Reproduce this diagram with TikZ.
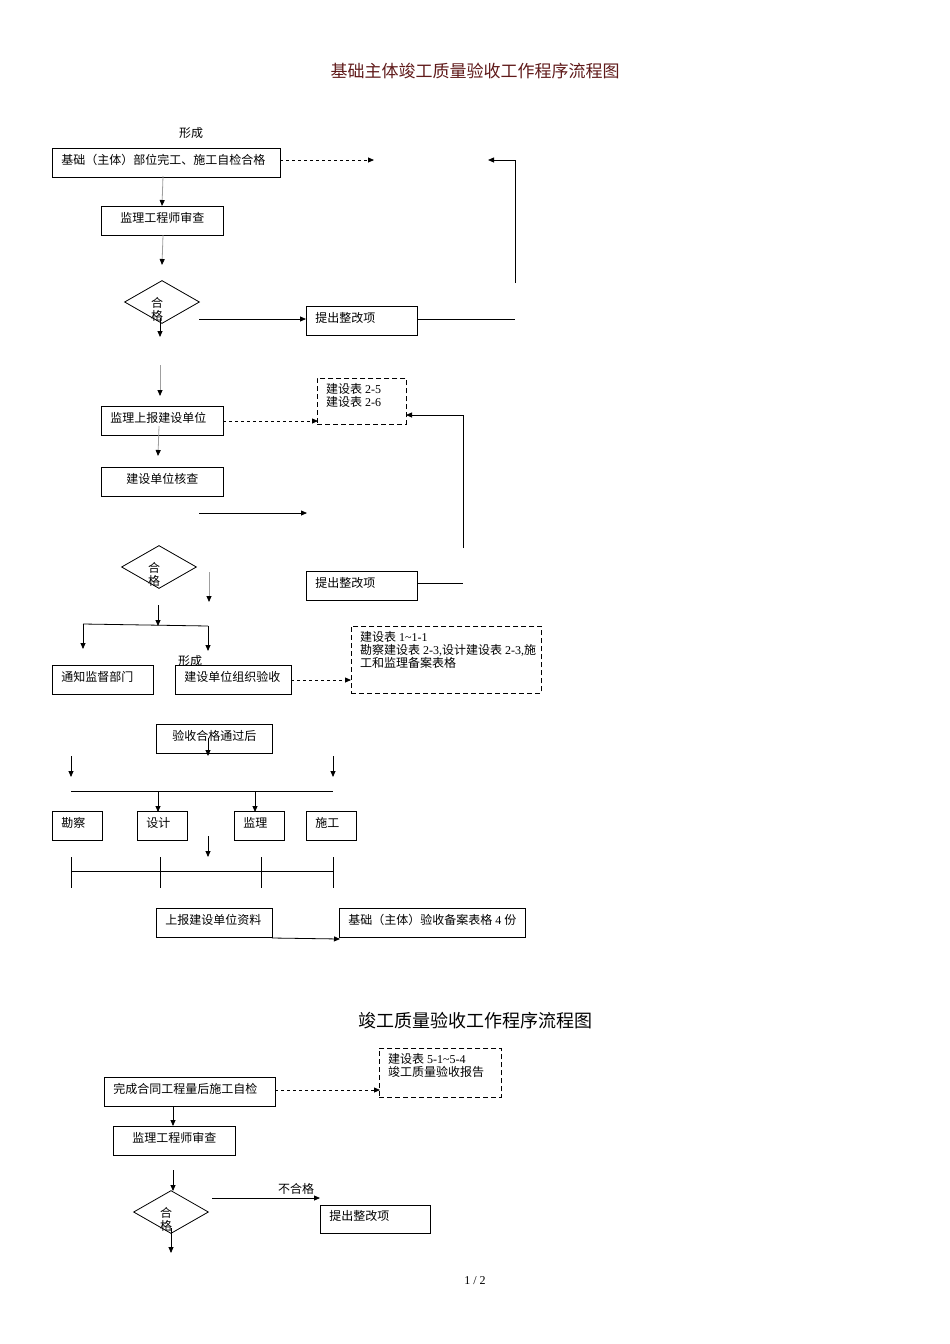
\documentclass[tikz,border=0pt]{standalone}
\usepackage{fontspec}
\setmainfont{Liberation Serif}
\newfontfamily\cjk{Noto Sans CJK SC}
\usetikzlibrary{arrows.meta,shapes.geometric}
\definecolor{titred}{RGB}{95,25,25}
\newcommand\zh[1]{{\cjk #1}}
\tikzset{
  ln/.style={line width=0.8pt},
  arr/.style={ln,-{Triangle[length=6pt,width=5pt]}},
  garr/.style={ln,draw=gray!75,-{Triangle[length=6pt,width=5pt,color=black]}},
  darr/.style={arr,dash pattern=on 3pt off 3pt},
  bx/.style={draw,ln,anchor=north west,inner xsep=9pt,inner ysep=0pt,minimum height=29pt,text height=9pt,text depth=6pt,align=left,font=\fontsize{12}{13}\selectfont},
  bxc/.style={bx,align=center},
  dbx/.style={draw,ln,dash pattern=on 5pt off 3pt,anchor=north west,inner sep=0pt},
  txt/.style={inner sep=0pt,font=\fontsize{12}{13}\selectfont,align=left},
  dia/.style={draw,ln,diamond,minimum width=75pt,minimum height=43pt,inner sep=0pt},
  ttl/.style={inner sep=0pt,font=\fontsize{18}{20}\selectfont\cjk},
}
\begin{document}
\begin{tikzpicture}[x=1pt,y=-1pt]
\useasboundingbox (0,0) rectangle (950,1344);
% ---------- title 1
\node[ttl,text=titred,font=\fontsize{17}{20}\selectfont\cjk] (t1) at (475,71) {基础主体竣工质量验收工作程序流程图};
\node[txt] (xc1) at (191,133) {\zh{形成}};
\node[bx,text width=210pt] (A) at (52,148) {\zh{基础（主体）部位完工、施工自检合格}};
\draw[darr] (280,160) -- (374,160);
\coordinate (r1) at (515,283);
\draw[arr] (r1) -- (515,160) -- (488,160);
\node[bxc,text width=104pt] (B) at (101,206) {\zh{监理工程师审查}};
\draw[garr] (163,176) -- (162,206);
\draw[garr] (163,235) -- (162,265);
\node[dia] (D1) at (162,302) {};
\node[txt,align=center] (D1t) at (157,309) {\zh{合}\\\zh{格}};
\draw[arr] (160,318) -- (160,337);
\node[bx,text width=93pt] (C) at (306,306) {\zh{提出整改项}};
\draw[arr] (199,319) -- (306,319);
\draw[ln] (417,319) -- (r1 |- 0,319);
% ---------- second block
\draw[garr] (160,365) -- (160,396);
\node[bx,text width=104pt] (E) at (101,406) {\zh{监理上报建设单位}};
\node[dbx,minimum width=89pt,minimum height=46pt] (Db1) at (317,378) {};
\node[txt,anchor=north west] (Db1t) at (326,383) {\zh{建设表} 2-5\\\zh{建设表} 2-6};
\draw[darr] (223,421) -- (318,421);
\coordinate (r2) at (463,548);
\draw[arr] (r2) -- (463,415) -- (406,415);
\draw[garr] (159,426) -- (158,456);
\node[bxc,text width=104pt] (F) at (101,467) {\zh{建设单位核查}};
\draw[arr] (199,513) -- (307,513);
\node[dia] (D2) at (159,567) {};
\node[txt,align=center] (D2t) at (154,574) {\zh{合}\\\zh{格}};
\draw[garr] (209,572) -- (209,602);
\node[bx,text width=93pt] (G) at (306,571) {\zh{提出整改项}};
\draw[ln] (417,583) -- (r2 |- 0,583);
\draw[arr] (158,605) -- (158,626);
\draw[ln] (83,624) -- (208,626);
\draw[arr] (83,624) -- (83,649);
\draw[arr] (208,626) -- (208,651);
\node[txt] (xc2) at (190,661) {\zh{形成}};
\node[bx,text width=83pt] (I) at (52,665) {\zh{通知监督部门}};
\node[bx,text width=98pt] (J) at (175,665) {\zh{建设单位组织验收}};
\node[dbx,minimum width=190pt,minimum height=67pt] (Db2) at (351,626) {};
\node[txt,anchor=north west] (Db2t) at (360,631) {\zh{建设表} 1\textasciitilde 1-1\\\zh{勘察建设表} 2-3,\zh{设计建设表} 2-3,\zh{施}\\\zh{工和监理备案表格}};
\draw[darr] (291,680) -- (351,680);
\node[bxc,text width=98pt] (K) at (156,724) {\zh{验收合格通过后}};
\draw[arr] (208,738) -- (208,756);
\draw[arr] (71,756) -- (71,777);
\draw[arr] (333,756) -- (333,777);
\draw[ln] (71,791) -- (333,791);
\draw[arr] (158,791) -- (158,812);
\draw[arr] (255,791) -- (255,812);
\node[bx,text width=32pt] (L1) at (52,811) {\zh{勘察}};
\node[bx,text width=32pt] (L2) at (137,811) {\zh{设计}};
\node[bx,text width=32pt] (L3) at (234,811) {\zh{监理}};
\node[bx,text width=32pt] (L4) at (306,811) {\zh{施工}};
\draw[arr] (208,836) -- (208,857);
\draw[ln] (71,871) -- (333,871);
\foreach \x in {71,160,261,333} \draw[ln] (\x,857) -- (\x,888);
\node[bx,text width=98pt] (M) at (156,908) {\zh{上报建设单位资料}};
\node[bx,minimum width=186pt,inner xsep=4pt] (N) at (339,908) {\zh{基础（主体）验收备案表格} 4 \zh{份}};
\draw[arr] (272,938) -- (340,939);
% ---------- title 2
\node[ttl] (t2) at (475,1021) {竣工质量验收工作程序流程图};
\node[dbx,minimum width=122pt,minimum height=49pt] (Db3) at (379,1048) {};
\node[txt,anchor=north west] (Db3t) at (388,1053) {\zh{建设表} 5-1\textasciitilde 5-4\\\zh{竣工质量验收报告}};
\node[bx,text width=153pt] (P) at (104,1077) {\zh{完成合同工程量后施工自检}};
\draw[darr] (275,1090) -- (380,1090);
\draw[arr] (173,1106) -- (173,1126);
\node[bxc,text width=104pt] (Q) at (113,1126) {\zh{监理工程师审查}};
\draw[arr] (173,1170) -- (173,1191);
\node[dia] (D3) at (171,1212) {};
\node[txt,align=center] (D3t) at (166,1219) {\zh{合}\\\zh{格}};
\draw[arr] (171,1228) -- (171,1253);
\node[bx,text width=92pt,minimum height=28pt] (R) at (320,1205) {\zh{提出整改项}};
\draw[arr] (212,1198) -- (320,1198);
\node[txt] (ng) at (296,1189) {\zh{不合格}};
\node[txt] (pg) at (475,1281) {1 / 2};
\end{tikzpicture}
\end{document}
